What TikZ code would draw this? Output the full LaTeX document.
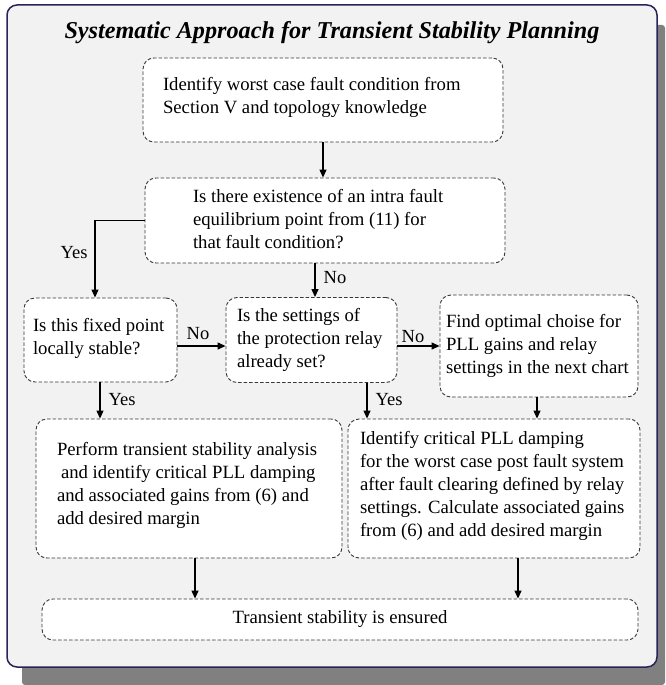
\documentclass[tikz,border=0pt]{standalone}
\usepackage{fontspec}
\setmainfont{Liberation Serif}
\usetikzlibrary{arrows.meta}
\definecolor{framecol}{RGB}{40,35,90}
\definecolor{framefill}{RGB}{242,242,242}
\definecolor{shadowcol}{RGB}{128,128,128}
\definecolor{dashcol}{RGB}{55,55,55}
\newcommand{\btext}[4][0]{\raisebox{#1pt}[\height][\depth]{\makebox[#3pt][l]{\hspace*{#2pt}\begin{tabular}{@{}l@{}}#4\end{tabular}}}}
\begin{document}
\begin{tikzpicture}[x=1pt,y=-1pt,
  box/.style={draw=dashcol, dash pattern=on 3.5pt off 2pt, line width=0.9pt,
    rounded corners=11pt, fill=white, inner xsep=0pt, inner ysep=0pt,
    font=\fontsize{18.7}{23}\selectfont},
  arr/.style={-{Triangle[length=8pt,width=7pt]}, line width=1.3pt},
  lab/.style={font=\fontsize{18.5}{20}\selectfont, inner sep=1pt}]
\useasboundingbox (0,0) rectangle (665,685);
% shadow and frame
\fill[shadowcol, rounded corners=3pt] (22,25) rectangle (665,685);
\draw[framecol, fill=framefill, line width=1.5pt, rounded corners=10pt] (7,5) rectangle (657,667);
\node[font=\fontsize{24.2}{28}\selectfont\bfseries\itshape] (title) at (332,33) {Systematic Approach for Transient Stability Planning};
% boxes
\node[box, minimum width=360, minimum height=84] (b1) at (323,100)
  {\btext[3]{20}{360}{Identify worst case fault condition from\\Section V and topology knowledge}};
\node[box, minimum width=360, minimum height=85] (b2) at (325,220.5)
  {\btext{48}{360}{Is there existence of an intra fault\\equilibrium point from (11) for\\that fault condition?}};
\node[box, minimum width=153, minimum height=84] (b3) at (100.5,340)
  {\btext[2]{9}{153}{Is this fixed point\\locally stable?}};
\node[box, minimum width=171, minimum height=85] (b4) at (311.5,340)
  {\btext{11}{171}{Is the settings of\\the protection relay\\already set?}};
\node[box, minimum width=198, minimum height=102] (b5) at (539,346)
  {\btext{6}{198}{Find optimal choise for\\PLL gains and relay\\settings in the next chart}};
\node[box, minimum width=306, minimum height=139] (b6) at (189,488.5)
  {\btext[3]{21}{306}{Perform transient stability analysis\\\hspace*{4pt}and identify critical PLL damping\\and associated gains from (6) and\\add desired margin}};
\node[box, minimum width=292, minimum height=139] (b7) at (494,488.5)
  {\btext[3]{12}{292}{Identify critical PLL damping\\for the worst case post fault system\\after fault clearing defined by relay\\settings. Calculate associated gains\\from (6) and add desired margin}};
\node[box, minimum width=596, minimum height=41] (b8) at (340,619.5)
  {Transient stability is ensured};
% connectors
\draw[arr] (b1.south) -- (b2.north -| b1.south);
\coordinate (yk) at (95,0);
\draw[arr] (b2.west) -| (b3.north -| yk);
\node[lab] (lyes1) at (74,253) {Yes};
\coordinate (x2) at (315,0);
\draw[arr] (b2.south -| x2) -- (b4.north -| x2);
\node[lab] (lno1) at (335,278) {No};
\coordinate (ya) at (0,346);
\draw[arr] (b3.east |- ya) -- (b4.west |- ya);
\node[lab] (lno2) at (198,334) {No};
\draw[arr] (b4.east |- ya) -- (b5.west |- ya);
\node[lab] (lno3) at (413,337) {No};
\coordinate (x3) at (100,0);
\draw[arr] (b3.south -| x3) -- (b6.north -| x3);
\node[lab] (lyes2) at (122,400) {Yes};
\coordinate (x4) at (367,0);
\draw[arr] (b4.south -| x4) -- (b7.north -| x4);
\node[lab] (lyes3) at (389,400) {Yes};
\coordinate (x5) at (537,0);
\draw[arr] (b5.south -| x5) -- (b7.north -| x5);
\coordinate (x6) at (195,0);
\draw[arr] (b6.south -| x6) -- (b8.north -| x6);
\coordinate (x7) at (518,0);
\draw[arr] (b7.south -| x7) -- (b8.north -| x7);
\end{tikzpicture}
\end{document}
